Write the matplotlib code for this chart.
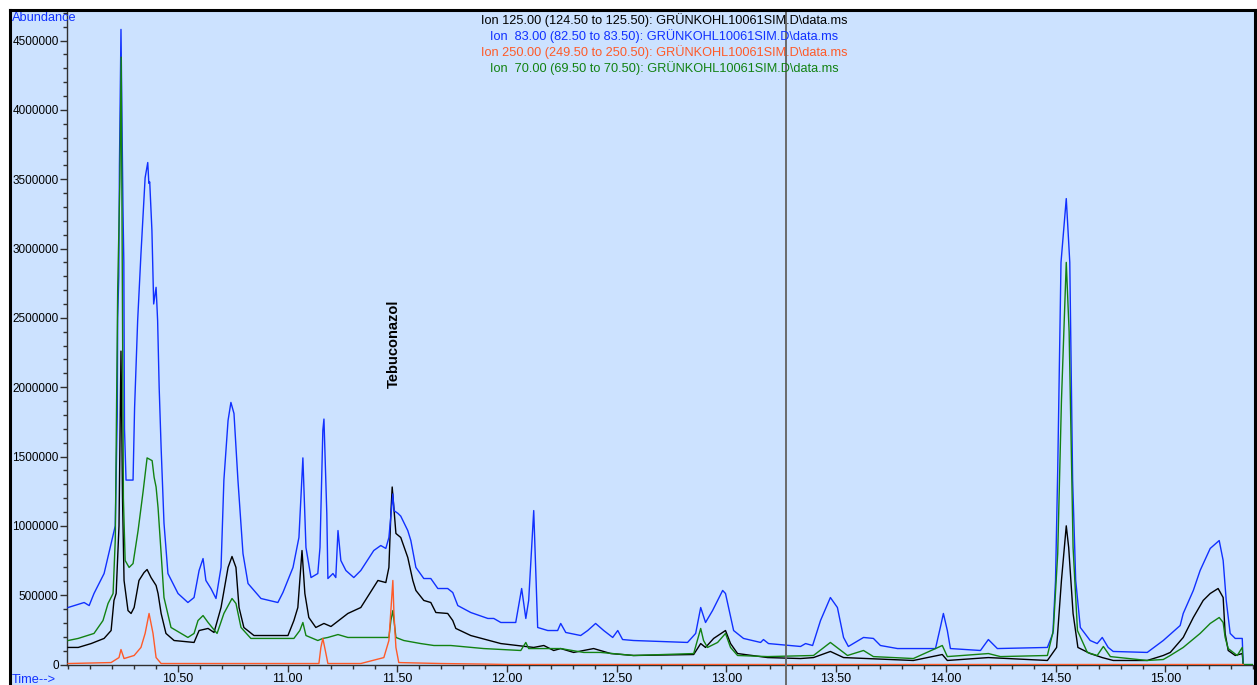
import matplotlib
matplotlib.use('Agg')
import matplotlib.pyplot as plt
from matplotlib.patches import Rectangle
from matplotlib.lines import Line2D
from matplotlib.ticker import MultipleLocator, FormatStrFormatter

plt.rcParams['font.family'] = ['Liberation Sans', 'DejaVu Sans']

# --- data (time in min, abundance) ---
t_125 = [10.000, 10.046, 10.105, 10.164, 10.196, 10.209, 10.219, 10.232, 10.241, 10.248,
         10.255, 10.273, 10.287, 10.301, 10.323, 10.346, 10.360, 10.378, 10.401, 10.410,
         10.424, 10.446, 10.483, 10.574, 10.597, 10.638, 10.665, 10.697, 10.729, 10.747,
         10.765, 10.779, 10.801, 10.847, 11.002, 11.029, 11.047, 11.066, 11.079, 11.097,
         11.129, 11.166, 11.198, 11.275, 11.334, 11.412, 11.448, 11.462, 11.471, 11.477,
         11.494, 11.516, 11.548, 11.571, 11.585, 11.621, 11.653, 11.676, 11.730, 11.753,
         11.767, 11.835, 11.972, 12.122, 12.168, 12.213, 12.245, 12.304, 12.395, 12.473,
         12.577, 12.851, 12.883, 12.905, 12.942, 12.996, 13.019, 13.051, 13.188, 13.338,
         13.397, 13.474, 13.534, 13.852, 13.984, 14.007, 14.194, 14.463, 14.505, 14.527,
         14.549, 14.560, 14.580, 14.602, 14.658, 14.713, 14.763, 14.918, 14.991, 15.023,
         15.082, 15.128, 15.173, 15.205, 15.241, 15.264, 15.273, 15.287, 15.319, 15.351,
         15.355]
ab_125 = [123000, 123000, 151000, 188000, 245000, 462000, 512000, 1000000, 2260000, 1200000,
          606000, 389000, 368000, 411000, 606000, 663000, 685000, 627000, 570000, 512000,
          368000, 224000, 173000, 159000, 245000, 260000, 231000, 411000, 700000, 779000,
          700000, 411000, 267000, 209000, 209000, 317000, 411000, 822000, 512000, 339000,
          267000, 296000, 274000, 368000, 411000, 606000, 591000, 700000, 1090000, 1280000,
          945000, 916000, 772000, 606000, 534000, 462000, 447000, 375000, 368000, 317000,
          260000, 209000, 151000, 123000, 137000, 101000, 115000, 87000, 115000, 79000,
          65000, 72000, 151000, 123000, 188000, 245000, 151000, 79000, 50000, 43000,
          50000, 94000, 50000, 29000, 72000, 29000, 50000, 29000, 123000, 606000,
          1000000, 844000, 368000, 123000, 79000, 50000, 29000, 29000, 65000, 87000,
          195000, 339000, 462000, 512000, 548000, 483000, 224000, 101000, 65000, 79000,
          7000]

t_83 = [10.000, 10.073, 10.096, 10.118, 10.164, 10.196, 10.215, 10.224, 10.226, 10.231,
        10.234, 10.241, 10.245, 10.250, 10.254, 10.257, 10.264, 10.296, 10.303, 10.317,
        10.332, 10.342, 10.351, 10.363, 10.368, 10.372, 10.382, 10.390, 10.401, 10.408,
        10.415, 10.424, 10.437, 10.455, 10.501, 10.546, 10.574, 10.597, 10.615, 10.628,
        10.651, 10.674, 10.697, 10.710, 10.729, 10.742, 10.756, 10.774, 10.797, 10.820,
        10.879, 10.956, 10.979, 11.025, 11.052, 11.070, 11.084, 11.107, 11.138, 11.148,
        11.161, 11.166, 11.179, 11.184, 11.207, 11.220, 11.230, 11.243, 11.266, 11.302,
        11.334, 11.393, 11.425, 11.448, 11.462, 11.480, 11.485, 11.503, 11.516, 11.548,
        11.562, 11.585, 11.621, 11.653, 11.685, 11.730, 11.753, 11.776, 11.835, 11.913,
        11.940, 11.972, 12.040, 12.067, 12.086, 12.099, 12.122, 12.140, 12.186, 12.231,
        12.245, 12.268, 12.336, 12.368, 12.404, 12.441, 12.482, 12.505, 12.527, 12.577,
        12.823, 12.860, 12.883, 12.905, 12.937, 12.983, 12.996, 13.010, 13.033, 13.078,
        13.156, 13.169, 13.192, 13.338, 13.361, 13.393, 13.429, 13.474, 13.506, 13.534,
        13.556, 13.625, 13.670, 13.702, 13.780, 13.953, 13.975, 13.989, 14.007, 14.021,
        14.158, 14.194, 14.235, 14.463, 14.488, 14.500, 14.510, 14.525, 14.549, 14.565,
        14.578, 14.592, 14.613, 14.658, 14.690, 14.713, 14.740, 14.763, 14.918, 14.991,
        15.068, 15.082, 15.128, 15.159, 15.205, 15.246, 15.264, 15.278, 15.296, 15.319,
        15.351, 15.355]
ab_83 = [411000, 447000, 425000, 512000, 656000, 873000, 1000000, 1800000, 2500000, 2800000,
         3600000, 4580000, 4000000, 3300000, 2900000, 1700000, 1330000, 1330000, 1850000, 2480000,
         2960000, 3250000, 3510000, 3620000, 3470000, 3480000, 3130000, 2600000, 2720000, 2480000,
         2000000, 1560000, 1020000, 656000, 512000, 447000, 483000, 678000, 764000, 606000,
         548000, 476000, 700000, 1330000, 1760000, 1890000, 1810000, 1330000, 800000, 584000,
         476000, 447000, 519000, 700000, 916000, 1490000, 844000, 627000, 656000, 844000,
         1690000, 1770000, 1090000, 620000, 656000, 627000, 966000, 750000, 678000, 627000,
         678000, 822000, 858000, 837000, 916000, 1230000, 1110000, 1090000, 1070000, 966000,
         894000, 700000, 620000, 620000, 548000, 548000, 519000, 425000, 375000, 332000,
         332000, 303000, 303000, 548000, 332000, 462000, 1110000, 267000, 245000, 245000,
         296000, 231000, 209000, 245000, 296000, 245000, 195000, 245000, 180000, 173000,
         159000, 224000, 411000, 303000, 389000, 534000, 512000, 411000, 245000, 188000,
         159000, 180000, 151000, 130000, 151000, 137000, 317000, 483000, 411000, 195000,
         130000, 195000, 188000, 137000, 115000, 115000, 267000, 368000, 245000, 115000,
         101000, 180000, 115000, 123000, 224000, 606000, 1400000, 2900000, 3360000, 2900000,
         1330000, 606000, 267000, 173000, 151000, 195000, 123000, 94000, 87000, 173000,
         281000, 368000, 534000, 678000, 837000, 894000, 750000, 462000, 224000, 188000,
         188000, 7000]

t_250 = [10.000, 10.196, 10.232, 10.241, 10.255, 10.301, 10.332, 10.351, 10.369, 10.387,
         10.401, 10.424, 11.143, 11.152, 11.161, 11.175, 11.184, 11.334, 11.439, 11.462,
         11.480, 11.485, 11.494, 11.507, 11.700, 11.900, 12.000, 15.355]
ab_250 = [7000, 14000, 50000, 108000, 43000, 65000, 123000, 224000, 368000, 224000,
          50000, 7000, 7000, 123000, 188000, 79000, 7000, 7000, 50000, 173000,
          606000, 368000, 123000, 14000, 7000, 3000, 0, 0]

t_70 = [10.000, 10.046, 10.118, 10.159, 10.182, 10.205, 10.215, 10.226, 10.236, 10.242,
        10.248, 10.252, 10.260, 10.278, 10.296, 10.319, 10.342, 10.360, 10.383, 10.392,
        10.401, 10.410, 10.424, 10.437, 10.469, 10.546, 10.574, 10.592, 10.615, 10.638,
        10.660, 10.679, 10.710, 10.747, 10.765, 10.788, 10.833, 11.029, 11.056, 11.070,
        11.084, 11.138, 11.161, 11.184, 11.230, 11.275, 11.412, 11.462, 11.471, 11.480,
        11.494, 11.530, 11.607, 11.667, 11.744, 11.894, 12.063, 12.086, 12.099, 12.245,
        12.350, 12.427, 12.577, 12.851, 12.883, 12.896, 12.914, 12.960, 12.996, 13.019,
        13.051, 13.188, 13.397, 13.474, 13.552, 13.625, 13.670, 13.852, 13.984, 14.007,
        14.194, 14.249, 14.463, 14.490, 14.510, 14.527, 14.549, 14.562, 14.580, 14.600,
        14.645, 14.690, 14.718, 14.750, 14.918, 14.991, 15.023, 15.082, 15.159, 15.205,
        15.246, 15.264, 15.273, 15.287, 15.328, 15.351, 15.355, 15.401]
ab_70 = [173000, 188000, 224000, 317000, 440000, 512000, 900000, 2700000, 3500000, 4380000,
         2500000, 1200000, 750000, 700000, 728000, 966000, 1250000, 1490000, 1470000, 1350000,
         1280000, 1130000, 800000, 483000, 267000, 195000, 224000, 317000, 353000, 303000,
         260000, 224000, 368000, 476000, 440000, 267000, 188000, 188000, 245000, 303000,
         209000, 173000, 188000, 195000, 216000, 195000, 195000, 195000, 317000, 389000,
         195000, 173000, 151000, 137000, 137000, 115000, 101000, 159000, 115000, 115000,
         87000, 87000, 65000, 79000, 260000, 173000, 123000, 159000, 224000, 123000,
         65000, 57000, 65000, 159000, 65000, 101000, 57000, 43000, 137000, 57000,
         79000, 57000, 65000, 245000, 800000, 1900000, 2900000, 2400000, 844000, 245000,
         87000, 65000, 130000, 57000, 29000, 36000, 65000, 123000, 224000, 296000,
         339000, 303000, 195000, 115000, 65000, 123000, 0, 0]

legend_lines = ['Ion 125.00 (124.50 to 125.50): GRÜNKOHL10061SIM.D\\data.ms',
                'Ion  83.00 (82.50 to 83.50): GRÜNKOHL10061SIM.D\\data.ms',
                'Ion 250.00 (249.50 to 250.50): GRÜNKOHL10061SIM.D\\data.ms',
                'Ion  70.00 (69.50 to 70.50): GRÜNKOHL10061SIM.D\\data.ms']
cursor_time = 13.274
peak_label = 'Tebuconazol'
peak_time, peak_height = 11.485, 2315000

BG = '#CCE2FF'
c_black, c_blue, c_orange, c_green = '#000000', '#1030FF', '#FF5A28', '#128212'

W, H = 1257, 685
fig = plt.figure(figsize=(W / 100, H / 100), dpi=100)
fig.patch.set_facecolor('white')
fig.add_artist(Rectangle((10 / W, 0), 1, 1 - 10 / H, transform=fig.transFigure,
                         facecolor=BG, edgecolor='none', zorder=-10))
for xs, ys in [([10 / W, 1], [1 - 10 / H] * 2), ([10 / W] * 2, [0, 1 - 10 / H]),
               ([1255 / W] * 2, [0, 1 - 10 / H])]:
    fig.add_artist(Line2D(xs, ys, transform=fig.transFigure, color='black', lw=2.2))

ax = fig.add_axes([67 / W, 1 - 664.5 / H, (1253 - 67) / W, (664.5 - 10) / H])
ax.patch.set_alpha(0)

ax.plot(t_125, ab_125, color=c_black, lw=1.0, zorder=3)
ax.plot(t_83, ab_83, color=c_blue, lw=1.0, zorder=4)
ax.plot(t_70, ab_70, color=c_green, lw=1.0, zorder=5)
ax.plot(t_250, ab_250, color=c_orange, lw=1.0, zorder=6)

ax.axvline(cursor_time, ymin=-0.035, ymax=1, color='#6A6A6A', lw=1.4, zorder=7, clip_on=False)

ax.set_xlim(9.995, 15.40)
ax.set_ylim(0, 4720000)
ax.xaxis.set_minor_locator(MultipleLocator(0.1))
ax.xaxis.set_major_formatter(FormatStrFormatter('%.2f'))
ax.yaxis.set_major_locator(MultipleLocator(500000))
ax.yaxis.set_minor_locator(MultipleLocator(100000))
ax.yaxis.set_major_formatter(FormatStrFormatter('%d'))
ax.set_xticks([10.5 + 0.5 * i for i in range(10)])

for s in ['top', 'right']:
    ax.spines[s].set_visible(False)
for s in ['left', 'bottom']:
    ax.spines[s].set_color('#303030')
    ax.spines[s].set_linewidth(1.0)
ax.tick_params(which='major', length=5, width=1, color='#303030', labelsize=8.5, pad=1)
ax.tick_params(which='minor', length=3, width=1, color='#303030')
ax.tick_params(axis='x', labelsize=9, pad=1)

for i, (txt, col) in enumerate(zip(legend_lines, [c_black, c_blue, c_orange, c_green])):
    fig.text(664 / W, 1 - (20 + 16 * i) / H, txt, color=col, fontsize=9.2,
             ha='center', va='center')

fig.text(12 / W, 1 - 18 / H, 'Abundance', color='#1030FF', fontsize=9.2, va='center')
fig.text(12 / W, 1 - 680 / H, 'Time-->', color='#1030FF', fontsize=9.2, va='center')

ax.text(peak_time, peak_height, peak_label, rotation=90, ha='center', va='center',
        fontsize=10.5, fontweight='bold', color='black', zorder=8)

fig.savefig('out.png', dpi=100, facecolor=fig.get_facecolor())
